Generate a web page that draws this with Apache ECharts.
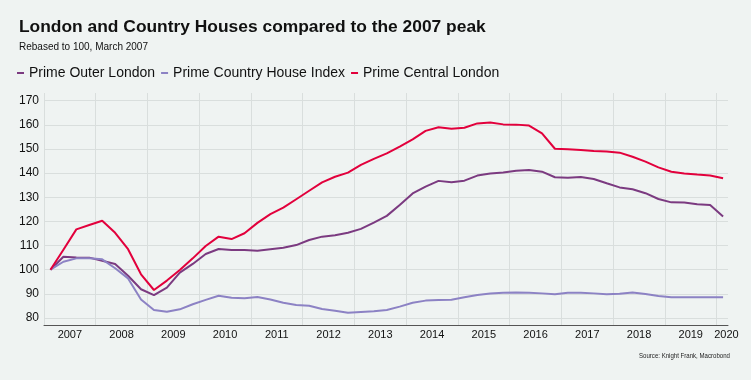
<!DOCTYPE html>
<html>
<head>
<meta charset="utf-8">
<script src="https://cdn.jsdelivr.net/npm/echarts@6/dist/echarts.min.js"></script>
<style>
html,body{margin:0;padding:0;background:#eff3f2;}
#chart{width:751px;height:380px;}
</style>
</head>
<body>
<div id="chart"></div>
<script>
// Quarterly observations, Q1 2007 .. Q1 2020
var startYear = 2007;
var yearLabels = [2007, 2008, 2009, 2010, 2011, 2012, 2013, 2014, 2015, 2016, 2017, 2018, 2019, 2020];
var yTickValues = [80, 90, 100, 110, 120, 130, 140, 150, 160, 170];

var primeOuterLondon = [
  100, 105.4, 105.1, 105, 103.7, 102.4, 97.5, 91.9, 89.5, 92.6,
  98.8, 102.4, 106.5, 108.6, 108.2, 108.2, 107.9, 108.5, 109.1, 110.2,
  112.3, 113.7, 114.3, 115.3, 116.9, 119.5, 122.3, 126.8, 131.6, 134.4,
  136.8, 136.2, 136.9, 139, 139.9, 140.3, 141, 141.3, 140.6, 138.3,
  138.1, 138.4, 137.6, 135.8, 134.1, 133.3, 131.7, 129.3, 127.9, 127.8,
  127.1, 126.8, 122
];
var primeCountryHouseIndex = [
  100, 103.3, 104.7, 104.7, 104.3, 100.6, 96.4, 87.7, 83.3, 82.6,
  83.6, 85.7, 87.5, 89.2, 88.4, 88.2, 88.7, 87.7, 86.3, 85.4,
  85.1, 83.7, 83, 82.2, 82.5, 82.8, 83.3, 84.7, 86.3, 87.2,
  87.5, 87.6, 88.6, 89.5, 90.1, 90.5, 90.6, 90.5, 90.2, 89.8,
  90.5, 90.5, 90.2, 89.8, 90, 90.6, 89.9, 89.1, 88.6, 88.6,
  88.6, 88.6, 88.6
];
var primeCentralLondon = [
  100, 108.3, 116.7, 118.5, 120.3, 115.3, 108.5, 98.1, 91.6, 95.5,
  99.9, 104.7, 109.8, 113.7, 112.7, 115.1, 119.4, 123, 125.7, 129.2,
  132.7, 136.2, 138.5, 140.2, 143.4, 145.9, 148.2, 151, 154, 157.5,
  159, 158.4, 158.8, 160.6, 161, 160.2, 160.1, 159.7, 156.5, 150.1,
  149.9, 149.6, 149.2, 149, 148.5, 146.8, 144.8, 142.4, 140.6, 139.9,
  139.4, 139, 137.9
];

function toPairs(arr) {
  return arr.map(function (v, i) { return [startYear + 0.125 + i * 0.25, v]; });
}

var yearGrid = yearLabels.slice();
var labelPositions = yearLabels.map(function (y, i) {
  return i === yearLabels.length - 1 ? y + 0.19 : y + 0.5;
});

var FONT = 'Liberation Sans, Arial, sans-serif';
var chart = echarts.init(document.getElementById('chart'), null, {renderer: 'canvas'});
chart.setOption({
  backgroundColor: '#eff3f2',
  animation: false,
  title: [
    {
      text: 'London and Country Houses compared to the 2007 peak',
      left: 14, top: 14,
      textStyle: {fontFamily: FONT, fontSize: 17.4, fontWeight: 'bold', color: '#111'}
    },
    {
      text: 'Rebased to 100, March 2007',
      left: 14, top: 37,
      textStyle: {fontFamily: FONT, fontSize: 10, fontWeight: 'normal', color: '#111'}
    }
  ],
  graphic: [
    {
      type: 'text', x: 639, y: 352, scaleX: 0.76,
      style: {text: 'Source: Knight Frank, Macrobond', font: '8px ' + FONT, fill: '#222'}
    }
  ],
  legend: {
    left: 12, top: 61,
    icon: 'rect', itemWidth: 7, itemHeight: 2, itemGap: 6,
    textStyle: {fontFamily: FONT, fontSize: 14, color: '#111'},
    data: ['Prime Outer London', 'Prime Country House Index', 'Prime Central London']
  },
  grid: {left: 44, right: 23, top: 93, bottom: 55, containLabel: false},
  xAxis: {
    type: 'value', min: 2007, max: 2020.22,
    axisLine: {show: true, lineStyle: {color: '#555', width: 1}},
    axisTick: {show: false, customValues: yearGrid},
    splitLine: {show: true, lineStyle: {color: '#d9dedd', width: 1}},
    axisLabel: {
      customValues: labelPositions, margin: 4,
      fontFamily: FONT, fontSize: 11, color: '#111',
      formatter: function (v) { return String(Math.floor(v)); }
    }
  },
  yAxis: {
    type: 'value', min: 77.1, max: 173.2,
    axisLine: {show: false},
    axisTick: {show: false, customValues: yTickValues},
    splitLine: {show: true, lineStyle: {color: '#d9dedd', width: 1}},
    axisLabel: {
      customValues: yTickValues, margin: 5,
      fontFamily: FONT, fontSize: 12, color: '#111'
    }
  },
  series: [
    {name: 'Prime Outer London', type: 'line', data: toPairs(primeOuterLondon), showSymbol: false,
     color: '#7b3a80', lineStyle: {width: 2, color: '#7b3a80'}},
    {name: 'Prime Country House Index', type: 'line', data: toPairs(primeCountryHouseIndex), showSymbol: false,
     color: '#8c82c4', lineStyle: {width: 2, color: '#8c82c4'}},
    {name: 'Prime Central London', type: 'line', data: toPairs(primeCentralLondon), showSymbol: false,
     color: '#e2003c', lineStyle: {width: 2, color: '#e2003c'}}
  ]
});
</script>
</body>
</html>
